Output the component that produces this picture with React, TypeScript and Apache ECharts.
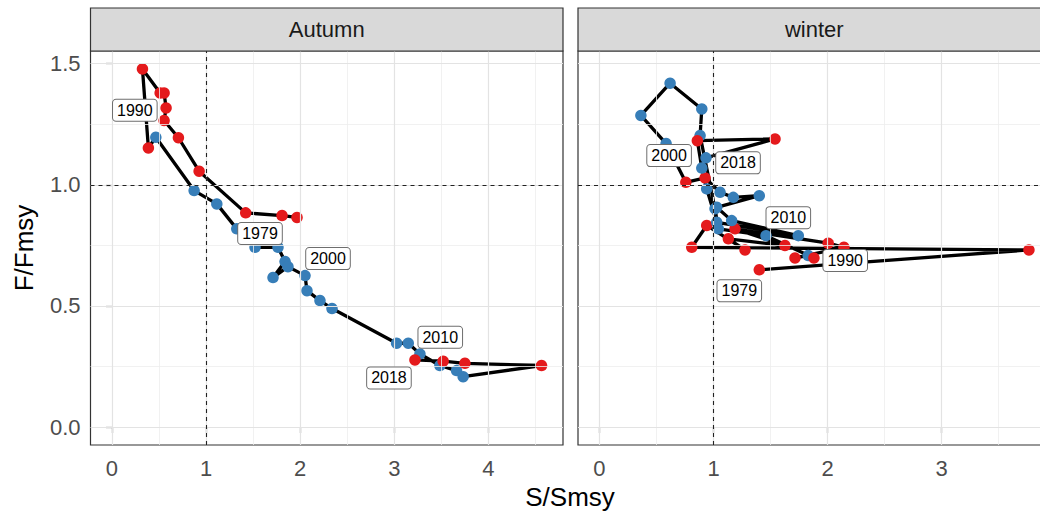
import React, { useEffect, useRef } from "react";
import * as echarts from "echarts";

// ---- data ----
const panelNames = ["Autumn", "winter"];

// Autumn path (time order), S/Smsy and F/Fmsy
const autumnS = [1.966, 1.807, 1.421, 0.926, 0.706, 0.554, 0.575, 0.554, 0.512, 0.324, 0.387, 0.466, 0.873, 1.114, 1.326, 1.52, 1.764, 1.839, 1.711, 1.87, 2.051, 2.072, 2.21, 2.338, 3.024, 3.148, 3.272, 3.484, 3.661, 3.731, 4.564, 3.75, 3.519, 3.219];
const autumnF = [0.865, 0.873, 0.884, 1.056, 1.194, 1.265, 1.317, 1.379, 1.379, 1.478, 1.152, 1.196, 0.976, 0.921, 0.818, 0.742, 0.742, 0.683, 0.617, 0.662, 0.625, 0.563, 0.522, 0.489, 0.346, 0.346, 0.302, 0.254, 0.233, 0.208, 0.254, 0.263, 0.272, 0.277];
const autumnGroup = ["r", "r", "r", "r", "r", "r", "r", "r", "r", "r", "r", "b", "b", "b", "b", "b", "b", "b", "b", "b", "b", "b", "b", "b", "b", "b", "b", "b", "b", "b", "r", "r", "r", "r"];
const autumnLabelIndex = [0, 11, 20, 25, 33];
const autumnLabelText = ["1979", "1990", "2000", "2010", "2018"];

// winter path (time order)
const winterS = [1.401, 3.765, 0.809, 0.94, 1.276, 1.13, 1.626, 1.188, 2.005, 2.143, 1.714, 1.83, 1.88, 1.46, 1.042, 1.013, 0.882, 0.897, 0.619, 0.363, 0.584, 0.757, 0.926, 1.057, 1.173, 1.401, 1.028, 1.159, 1.743, 1.028, 0.94, 0.897, 0.858, 1.539, 0.934];
const winterF = [0.649, 0.731, 0.742, 0.832, 0.731, 0.777, 0.749, 0.818, 0.759, 0.742, 0.698, 0.708, 0.698, 0.79, 0.818, 0.901, 1.203, 1.313, 1.419, 1.286, 1.17, 1.01, 1.028, 0.969, 0.948, 0.955, 0.907, 0.852, 0.79, 0.845, 0.983, 1.069, 1.182, 1.189, 1.111];
const winterGroup = ["r", "r", "r", "r", "r", "r", "r", "r", "r", "r", "r", "b", "r", "b", "b", "b", "b", "b", "b", "b", "b", "r", "r", "b", "b", "b", "b", "b", "b", "b", "b", "b", "r", "r", "b"];
const winterLabelIndex = [0, 11, 20, 28, 34];
const winterLabelText = ["1979", "1990", "2000", "2010", "2018"];

// axes
const autumnXTicks = [0, 1, 2, 3, 4];
const autumnXMinor = [0.5, 1.5, 2.5, 3.5, 4.5];
const winterXTicks = [0, 1, 2, 3];
const winterXMinor = [0.5, 1.5, 2.5, 3.5];
const yTicks = [0, 0.5, 1, 1.5];
const yMinor = [0.25, 0.75, 1.25];
const refS = 1;
const refF = 1;

// ---- styles ----
const FONT = "'Liberation Sans', Arial, Helvetica, sans-serif";
const RED = "#E41A1C";
const BLUE = "#377EB8";
const PANEL_W = 472.5;
const PANEL_TOP = 51;
const PANEL_H = 394;
const PANEL_LEFT = [90.5, 578];
const X_RANGE = [
  [-0.228, 4.792],
  [-0.1883, 3.954],
];
const Y_RANGE = [-0.074, 1.552];

const autumnOffsets = [
  [-37, 16],
  [-21, -27],
  [23, -17],
  [32, -6],
  [-26, 18],
];
const winterOffsets = [
  [-20, 21],
  [37, 5],
  [3, 12],
  [-10, -18],
  [32, 5],
];

function buildPanelSeries(
  idx: number,
  S: number[],
  F: number[],
  group: string[],
  labelIndex: number[],
  labelText: string[],
  offsets: number[][],
  xMajor: number[],
  xMinor: number[]
) {
  const major = { color: "#e3e3e3", width: 1.2, type: "solid" };
  const minor = { color: "#eeeeee", width: 0.8, type: "solid" };
  const gridLines = [
    ...xMinor.map((v) => ({ xAxis: v, lineStyle: minor })),
    ...yMinor.map((v) => ({ yAxis: v, lineStyle: minor })),
    ...xMajor.map((v) => ({ xAxis: v, lineStyle: major })),
    ...yTicks.map((v) => ({ yAxis: v, lineStyle: major })),
  ];
  const pts = S.map((s, i) => [s, F[i]]);
  return [
    {
      type: "line",
      xAxisIndex: idx,
      yAxisIndex: idx,
      data: [],
      z: 1,
      silent: true,
      markLine: {
        silent: true,
        symbol: ["none", "none"],
        label: { show: false },
        emphasis: { disabled: true },
        data: gridLines,
      },
    },
    {
      type: "line",
      xAxisIndex: idx,
      yAxisIndex: idx,
      data: [],
      z: 2,
      silent: true,
      markLine: {
        silent: true,
        symbol: ["none", "none"],
        label: { show: false },
        emphasis: { disabled: true },
        data: [
          { xAxis: refS, lineStyle: { color: "#222", width: 1.1, type: [4, 4] } },
          { yAxis: refF, lineStyle: { color: "#222", width: 1.1, type: [4, 4] } },
        ],
      },
    },
    {
      type: "line",
      xAxisIndex: idx,
      yAxisIndex: idx,
      data: pts,
      showSymbol: false,
      symbol: "none",
      z: 3,
      silent: true,
      lineStyle: { color: "#000", width: 3.3, join: "round", cap: "round", opacity: 1 },
      emphasis: { disabled: true },
    },
    {
      type: "scatter",
      xAxisIndex: idx,
      yAxisIndex: idx,
      z: 4,
      silent: true,
      symbol: "circle",
      symbolSize: 11.5,
      data: pts.map((p, i) => ({
        value: p,
        itemStyle: { color: group[i] === "r" ? RED : BLUE, opacity: 1 },
      })),
      emphasis: { disabled: true },
    },
    {
      type: "scatter",
      xAxisIndex: idx,
      yAxisIndex: idx,
      z: 5,
      silent: true,
      symbol: "circle",
      symbolSize: 1,
      itemStyle: { color: "rgba(0,0,0,0)", opacity: 1 },
      data: labelIndex.map((k, j) => ({
        value: pts[k],
        label: {
          show: true,
          position: "inside",
          offset: offsets[j],
          formatter: labelText[j],
          fontFamily: FONT,
          fontSize: 16,
          color: "#000000",
          backgroundColor: "#ffffff",
          borderColor: "#6e6e6e",
          borderWidth: 1,
          borderRadius: 3,
          padding: [3, 4, 2, 4],
          lineHeight: 16,
          opacity: 1,
        },
      })),
      emphasis: { disabled: true },
    },
  ];
}

export default function App() {
  const ref = useRef<HTMLDivElement>(null);
  useEffect(() => {
    if (!ref.current) return;
    const chart = echarts.init(ref.current, null, { renderer: "svg" });
    const tickStyle = { color: "#333333", width: 1.2 };
    const xAxisFor = (i: number, ticks: number[]) => ({
      type: "value",
      gridIndex: i,
      min: X_RANGE[i][0],
      max: X_RANGE[i][1],
      axisLine: { show: false },
      splitLine: { show: false },
      axisTick: { show: true, length: 6, lineStyle: tickStyle, customValues: ticks },
      axisLabel: {
        customValues: ticks,
        margin: 12,
        fontSize: 22,
        fontFamily: FONT,
        color: "#4d4d4d",
        formatter: (v: number) => String(v),
      },
    });
    const yAxisFor = (i: number) => ({
      type: "value",
      gridIndex: i,
      min: Y_RANGE[0],
      max: Y_RANGE[1],
      axisLine: { show: false },
      splitLine: { show: false },
      axisTick: { show: i === 0, length: 6, lineStyle: tickStyle, customValues: yTicks },
      axisLabel: {
        show: i === 0,
        customValues: yTicks,
        margin: 10,
        fontSize: 22,
        fontFamily: FONT,
        color: "#4d4d4d",
        formatter: (v: number) => v.toFixed(1),
      },
    });
    const stripRect = (i: number) => ({
      type: "rect",
      shape: { x: PANEL_LEFT[i], y: 8, width: PANEL_W, height: PANEL_TOP - 8 },
      style: { fill: "#d9d9d9", stroke: "#333333", lineWidth: 1.2 },
      z: 10,
    });
    const stripText = (i: number) => ({
      type: "text",
      x: PANEL_LEFT[i] + PANEL_W / 2,
      y: 8 + (PANEL_TOP - 8) / 2,
      style: {
        text: panelNames[i],
        fontSize: 22,
        fontFamily: FONT,
        fill: "#1a1a1a",
        align: "center",
        verticalAlign: "middle",
      },
      z: 11,
    });
    const option: any = {
      animation: false,
      backgroundColor: "#ffffff",
      grid: PANEL_LEFT.map((l) => ({
        left: l,
        top: PANEL_TOP,
        width: PANEL_W,
        height: PANEL_H,
        show: true,
        borderColor: "#333333",
        borderWidth: 1.2,
        backgroundColor: "#ffffff",
        z: 0,
      })),
      xAxis: [xAxisFor(0, autumnXTicks), xAxisFor(1, winterXTicks)],
      yAxis: [yAxisFor(0), yAxisFor(1)],
      series: [
        ...buildPanelSeries(0, autumnS, autumnF, autumnGroup, autumnLabelIndex, autumnLabelText, autumnOffsets, autumnXTicks, autumnXMinor),
        ...buildPanelSeries(1, winterS, winterF, winterGroup, winterLabelIndex, winterLabelText, winterOffsets, winterXTicks, winterXMinor),
      ],
      graphic: [
        stripRect(0),
        stripRect(1),
        stripText(0),
        stripText(1),
        {
          type: "text",
          x: 570,
          y: 497,
          style: {
            text: "S/Smsy",
            fontSize: 26,
            fontFamily: FONT,
            fill: "#000000",
            align: "center",
            verticalAlign: "middle",
          },
        },
        {
          type: "text",
          x: 24,
          y: 248,
          rotation: Math.PI / 2,
          style: {
            text: "F/Fmsy",
            fontSize: 26,
            fontFamily: FONT,
            fill: "#000000",
            align: "center",
            verticalAlign: "middle",
          },
        },
      ],
    };
    chart.setOption(option);
    return () => chart.dispose();
  }, []);
  // The figure is wider than the window: the right panel is cut off at the window edge, as in the reference.
  return (
    <div
      ref={ref}
      style={{ position: "fixed", left: 0, top: 0, width: 1060, height: 516 }}
    />
  );
}
